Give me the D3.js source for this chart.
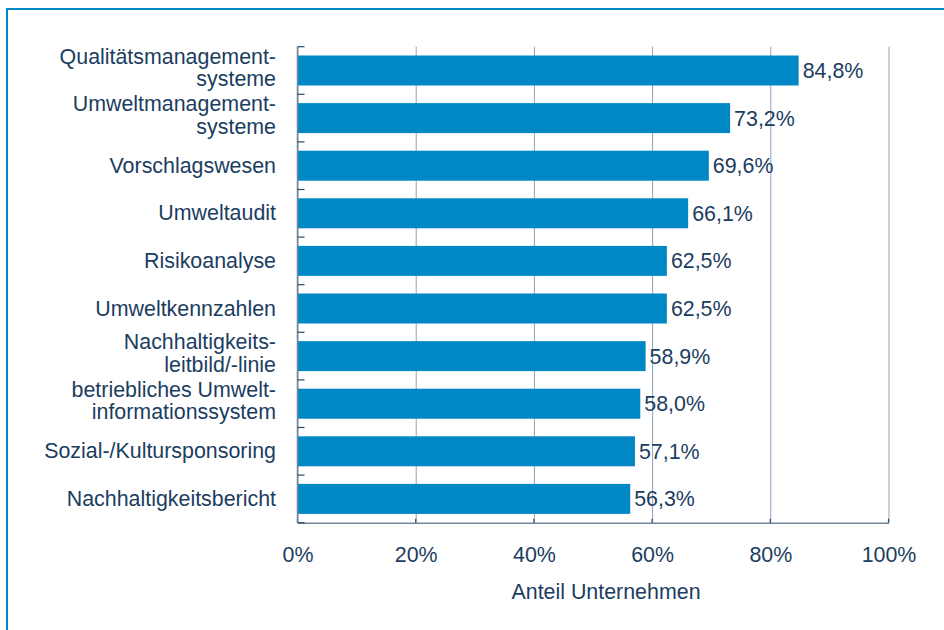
<!DOCTYPE html>
<html>
<head>
<meta charset="utf-8">
<script src="https://cdn.jsdelivr.net/npm/d3@7"></script>
<style>
  body { margin: 0; background: #fff; }
  svg { display: block; font-family: "Liberation Sans", Arial, sans-serif; }
</style>
</head>
<body>
<div id="chart"></div>
<script>
// categories (each label split into its lines) and values in %
var categories = [
  ["Qualitätsmanagement-", "systeme"],
  ["Umweltmanagement-", "systeme"],
  ["Vorschlagswesen"],
  ["Umweltaudit"],
  ["Risikoanalyse"],
  ["Umweltkennzahlen"],
  ["Nachhaltigkeits-", "leitbild/-linie"],
  ["betriebliches Umwelt-", "informationssystem"],
  ["Sozial-/Kultursponsoring"],
  ["Nachhaltigkeitsbericht"]
];
var values = [84.8, 73.2, 69.6, 66.1, 62.5, 62.5, 58.9, 58.0, 57.1, 56.3];
var xTicks = [0, 20, 40, 60, 80, 100];
var xTitle = "Anteil Unternehmen";

var W = 944, H = 630;
var plotLeft = 297.5, plotRight = 888.5, plotTop = 46.7, plotBottom = 522.7;
var textColor = "#1b3d5f";
var barColor = "#0088c6";
var fontSize = "21.4px";

var svg = d3.select("#chart").append("svg")
  .attr("width", W)
  .attr("height", H);

// frame (runs off the right and bottom edges)
svg.append("rect")
  .attr("x", 7).attr("y", 9)
  .attr("width", W + 20).attr("height", H + 20)
  .attr("fill", "none")
  .attr("stroke", barColor)
  .attr("stroke-width", 2);

var keys = categories.map(function(c) { return c.join(" "); });

var x = d3.scaleLinear().domain([0, 100]).range([plotLeft, plotRight]);
var y = d3.scaleBand().domain(keys).range([plotTop, plotBottom])
  .paddingInner(0.37).paddingOuter(0.185);

// x axis with gridlines
var xAxis = svg.append("g")
  .attr("transform", "translate(0," + plotBottom + ")")
  .call(d3.axisBottom(x).tickValues(xTicks)
    .tickSizeInner(-(plotBottom - plotTop)).tickSizeOuter(0).tickPadding(24)
    .tickFormat(function(d) { return d + "%"; }));
xAxis.select(".domain").attr("stroke", "#6f869e").attr("stroke-width", 1.5);
xAxis.selectAll(".tick line").attr("stroke", "#8ea3b9").attr("stroke-width", 1);
xAxis.selectAll(".tick text")
  .attr("fill", textColor)
  .style("font-size", fontSize);

// small dark tick stubs at the bottom axis
svg.append("g").selectAll("line")
  .data(xTicks)
  .join("line")
  .attr("x1", function(d) { return x(d); })
  .attr("x2", function(d) { return x(d); })
  .attr("y1", plotBottom - 4)
  .attr("y2", plotBottom)
  .attr("stroke", "#2a4a6a")
  .attr("stroke-width", 1.2);

// bars
svg.append("g").selectAll("rect")
  .data(values)
  .join("rect")
  .attr("x", x(0))
  .attr("y", function(d, i) { return y(keys[i]); })
  .attr("width", function(d) { return x(d) - x(0); })
  .attr("height", y.bandwidth())
  .attr("fill", barColor);

// y axis line
svg.append("line")
  .attr("x1", plotLeft).attr("x2", plotLeft)
  .attr("y1", plotTop).attr("y2", plotBottom)
  .attr("stroke", "#6f869e")
  .attr("stroke-width", 1.5);

// y ticks at band boundaries
var bounds = d3.range(keys.length + 1).map(function(i) { return plotTop + i * y.step(); });
svg.append("g").selectAll("line")
  .data(bounds)
  .join("line")
  .attr("x1", plotLeft)
  .attr("x2", plotLeft + 7)
  .attr("y1", function(d) { return d; })
  .attr("y2", function(d) { return d; })
  .attr("stroke", "#2a4a6a")
  .attr("stroke-width", 1.2);

// category labels
var labels = svg.append("g").selectAll("text")
  .data(categories)
  .join("text")
  .attr("text-anchor", "end")
  .attr("fill", textColor)
  .style("font-size", fontSize)
  .attr("transform", function(d, i) {
    return "translate(276," + (y(keys[i]) + y.bandwidth() / 2) + ")";
  });
labels.selectAll("tspan")
  .data(function(d) { return d.map(function(t, j) { return { t: t, j: j, n: d.length }; }); })
  .join("tspan")
  .attr("x", 0)
  .attr("y", function(d) {
    if (d.n == 1) return 7;
    return d.j == 0 ? -7 : 15.5;
  })
  .text(function(d) { return d.t; });

// value labels
svg.append("g").selectAll("text")
  .data(values)
  .join("text")
  .attr("x", function(d) { return x(d) + 4; })
  .attr("y", function(d, i) { return y(keys[i]) + y.bandwidth() / 2 + 7.5; })
  .attr("fill", textColor)
  .style("font-size", fontSize)
  .text(function(d) { return d.toFixed(1).replace(".", ",") + "%"; });

// axis title
svg.append("text")
  .attr("x", 606)
  .attr("y", 599)
  .attr("text-anchor", "middle")
  .attr("fill", textColor)
  .style("font-size", fontSize)
  .text(xTitle);
</script>
</body>
</html>
